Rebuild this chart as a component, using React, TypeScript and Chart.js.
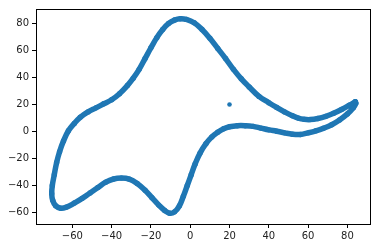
import React, { useEffect, useRef } from "react";
import { Chart, registerables } from "chart.js";

Chart.register(...registerables);

// Traced loop (x values, y values), in order along the curve
const loopX = [
  84, 81, 77, 73, 69, 65, 61, 58, 55, 52, 48, 44, 40, 35, 30, 26, 22, 18, 14,
  10, 6, 2, -2, -5, -8, -11, -14, -17, -20, -23, -26, -29, -32, -36, -40, -44,
  -48, -52, -56, -59, -62, -64.5, -66.5, -68, -69.2, -70.2, -70.5, -70, -68.5,
  -66, -63, -59, -55, -51, -47, -43, -39, -35, -31, -27, -23, -19.5, -16, -13,
  -10.5, -8, -5.5, -3.5, -1.5, 0.5, 2.5, 5, 8, 11, 14, 17, 20, 24, 28, 32, 36,
  40, 44, 48, 52, 56, 60, 64, 68, 72, 76, 80, 83, 84.3, 84,
];
const loopY = [
  22, 19.5, 16.3, 13.5, 11.2, 9.6, 8.8, 9, 9.9, 11.6, 14.5, 17.8, 21.3, 26,
  33, 39, 46, 54, 61.5, 69, 75.5, 80.5, 83, 83.5, 82.5, 80, 75.5, 69.5, 62, 54,
  46, 39.5, 34, 28, 23.5, 20.5, 17.5, 14.5, 10.5, 6, 0.5, -7, -15, -23, -32,
  -40, -46, -51, -55, -56.8, -56, -53, -49.5, -45.5, -41.5, -37.5, -35.2,
  -34.5, -35.3, -38.5, -43.5, -49, -54.5, -58.5, -60.5, -59.5, -55, -48, -40,
  -32, -24, -16, -9, -4, -0.5, 2, 3.5, 4.3, 4.3, 3.8, 2.5, 1.2, 0.2, -1, -2,
  -2.2, -1, 0.5, 2.5, 5, 8.5, 13, 17.5, 21, 22,
];
// Isolated point
const singleX = [20];
const singleY = [20];

const xTicks = [-60, -40, -20, 0, 20, 40, 60, 80];
const yTicks = [-60, -40, -20, 0, 20, 40, 60, 80];

const X_MIN = -78.5;
const X_MAX = 91.5;
const Y_MIN = -68.5;
const Y_MAX = 90.7;

const BLUE = "#1f77b4";

const fmt = (v: number) => String(v).replace("-", "\u2212");

export default function App() {
  const ref = useRef<HTMLCanvasElement | null>(null);

  useEffect(() => {
    if (!ref.current) return;
    const loop = loopX.map((x, i) => ({ x, y: loopY[i] }));
    const single = singleX.map((x, i) => ({ x, y: singleY[i] }));

    const boxPlugin = {
      id: "box",
      afterDraw(chart: any) {
        const { ctx, chartArea } = chart;
        ctx.save();
        ctx.strokeStyle = "#000";
        ctx.lineWidth = 1;
        ctx.strokeRect(
          Math.round(chartArea.left) + 0.5,
          Math.round(chartArea.top) + 0.5,
          Math.round(chartArea.right - chartArea.left),
          Math.round(chartArea.bottom - chartArea.top)
        );
        ctx.restore();
      },
    };

    const chart = new Chart(ref.current, {
      type: "scatter",
      data: {
        datasets: [
          {
            data: loop,
            showLine: true,
            borderColor: BLUE,
            borderWidth: 5.5,
            backgroundColor: BLUE,
            pointRadius: 2.7,
            pointBorderWidth: 0,
            tension: 0.4,
            borderCapStyle: "round",
            borderJoinStyle: "round",
          },
          {
            data: single,
            backgroundColor: BLUE,
            borderColor: BLUE,
            pointRadius: 2.3,
            pointBorderWidth: 0,
          },
        ],
      },
      options: {
        animation: false,
        responsive: false,
        maintainAspectRatio: false,
        layout: { padding: { left: 0, top: 6, right: 7, bottom: 0 } },
        plugins: {
          legend: { display: false },
          tooltip: { enabled: false },
        },
        scales: {
          x: {
            type: "linear",
            min: X_MIN,
            max: X_MAX,
            afterBuildTicks: (s: any) => {
              s.ticks = xTicks.map((v) => ({ value: v }));
            },
            afterFit: (s: any) => {
              s.height = 24;
            },
            grid: {
              display: true,
              drawOnChartArea: false,
              drawTicks: true,
              tickLength: 4,
              tickColor: "#000",
            },
            border: { display: true, color: "#000", width: 1 },
            ticks: {
              color: "#222",
              padding: 2,
              maxRotation: 0,
              font: { family: "DejaVu Sans", size: 10 },
              callback: (v: any) => fmt(Number(v)),
            },
          },
          y: {
            type: "linear",
            min: Y_MIN,
            max: Y_MAX,
            afterBuildTicks: (s: any) => {
              s.ticks = yTicks.map((v) => ({ value: v }));
            },
            afterFit: (s: any) => {
              s.width = 36;
            },
            grid: {
              display: true,
              drawOnChartArea: false,
              drawTicks: true,
              tickLength: 4,
              tickColor: "#000",
            },
            border: { display: true, color: "#000", width: 1 },
            ticks: {
              color: "#222",
              padding: 3,
              font: { family: "DejaVu Sans", size: 10 },
              callback: (v: any) => fmt(Number(v)),
            },
          },
        },
      },
      plugins: [boxPlugin],
    });
    return () => chart.destroy();
  }, []);

  return (
    <div style={{ position: "fixed", left: 0, top: 0, width: 377, height: 248, background: "#fff" }}>
      <canvas ref={ref} width={377} height={248} style={{ width: 377, height: 248, display: "block" }} />
    </div>
  );
}
